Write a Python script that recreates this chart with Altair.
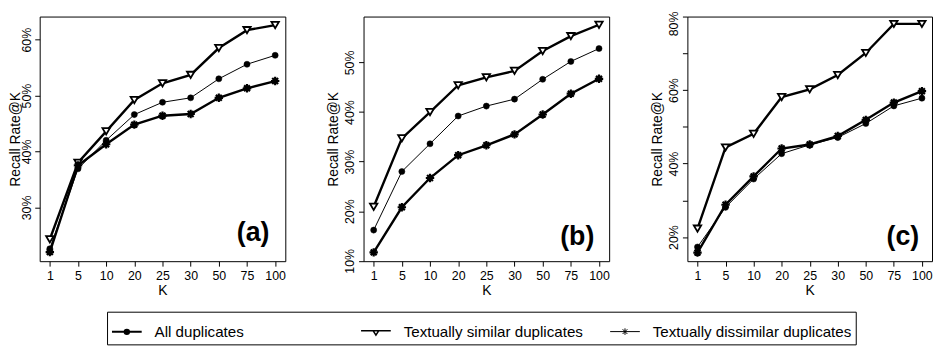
import altair as alt
import pandas as pd

# ---------------- data ----------------
K = ["1", "5", "10", "20", "25", "30", "50", "75", "100"]
SERIES = ["All duplicates", "Textually similar duplicates", "Textually dissimilar duplicates"]
PANELS = ["a", "b", "c"]
TAGS = ["(a)", "(b)", "(c)"]

all_a = [22.6, 36.9, 42.0, 46.6, 48.8, 49.6, 53.0, 55.6, 57.2]
sim_a = [24.3, 38.0, 43.6, 49.2, 52.2, 53.7, 58.5, 61.7, 62.6]
dis_a = [22.0, 37.5, 41.3, 44.8, 46.4, 46.7, 49.6, 51.3, 52.6]

all_b = [16.2, 28.0, 33.6, 39.2, 41.2, 42.6, 46.6, 50.2, 52.8]
sim_b = [20.9, 34.7, 40.0, 45.4, 47.0, 48.3, 52.3, 55.3, 57.6]
dis_b = [11.7, 20.8, 26.7, 31.3, 33.3, 35.5, 39.5, 43.7, 46.7]

all_c = [17.3, 28.1, 35.8, 42.7, 45.1, 47.1, 50.9, 55.7, 57.8]
sim_c = [22.3, 44.4, 48.1, 58.1, 60.2, 64.1, 70.1, 78.0, 78.0]
dis_c = [15.8, 28.8, 36.5, 44.1, 45.2, 47.5, 51.9, 56.6, 59.7]

VALUES = {
    "a": [all_a, sim_a, dis_a],
    "b": [all_b, sim_b, dis_b],
    "c": [all_c, sim_c, dis_c],
}

rows = []
for p in PANELS:
    for s, arr in zip(SERIES, VALUES[p]):
        for k, v in zip(K, arr):
            rows.append({"panel": p, "K": k, "series": s, "value": v})
df = pd.DataFrame(rows)

# ---------------- style ----------------
FONT = "Liberation Sans"
TRI = "M-1,-0.85L1,-0.85L0,0.85Z"
STAR = "M-1,0L1,0M0,-1L0,1M-0.7,-0.7L0.7,0.7M-0.7,0.7L0.7,-0.7"
LEG_PATHS = [
    "M-1,0L1,0M0.15,0A0.15,0.15,0,1,1,-0.15,0A0.15,0.15,0,1,1,0.15,0Z",
    "M-1,-0.08L1,-0.08M-0.19,-0.08L0.19,-0.08L0,0.22Z",
    "M-1,0L1,0M0,-0.22L0,0.22M-0.16,-0.16L0.16,0.16M-0.16,0.16L0.16,-0.16",
]


def panel(p, tag, width, domain, ticks, label_expr, title_off, tag_right, tag_y,
          label_pad=2, top_shift=False, legend=False):
    d = df[df.panel == p]
    height = 247
    x = alt.X("K:N", sort=K,
              scale=alt.Scale(type="point", padding=0.36),
              axis=alt.Axis(title="K", labelAngle=0, tickSize=5, labelPadding=3,
                            titlePadding=2, labelFontSize=12.5, titleFontSize=14))
    yax = dict(title="Recall Rate@K", values=ticks, labelExpr=label_expr,
               labelAngle=270, labelAlign="center", labelBaseline="bottom",
               tickSize=5, labelPadding=label_pad, minExtent=20, maxExtent=20,
               titlePadding=title_off - 20, labelFontSize=12.5, titleFontSize=14)
    if top_shift:
        yax["labelOffset"] = {"condition": {"test": "datum.value >= 79", "value": 7},
                              "value": 0}
    y = alt.Y("value:Q", scale=alt.Scale(domain=domain, nice=False, zero=False),
              axis=alt.Axis(**yax))
    base = alt.Chart(d)
    layers = []
    # textually similar (thick, open triangle)
    f = alt.datum.series == SERIES[1]
    layers.append(base.transform_filter(f).mark_line(color="black", strokeWidth=2.4).encode(x=x, y=y))
    layers.append(base.transform_filter(f).mark_point(shape=TRI, size=56, fill="white", stroke="black",
                                                      strokeWidth=1.8, opacity=1, filled=True).encode(x=x, y=y))
    # textually dissimilar (thick, star)
    f = alt.datum.series == SERIES[2]
    layers.append(base.transform_filter(f).mark_line(color="black", strokeWidth=2.4).encode(x=x, y=y))
    layers.append(base.transform_filter(f).mark_point(shape=STAR, size=72, stroke="black",
                                                      strokeWidth=2.2, opacity=1).encode(x=x, y=y))
    # all (thin, filled circle)
    f = alt.datum.series == SERIES[0]
    layers.append(base.transform_filter(f).mark_line(color="black", strokeWidth=1).encode(x=x, y=y))
    layers.append(base.transform_filter(f).mark_point(shape="circle", size=38, fill="black", stroke="black",
                                                      strokeWidth=0.5, opacity=1, filled=True).encode(x=x, y=y))
    # panel tag
    layers.append(alt.Chart(pd.DataFrame({"tag": [tag]})).mark_text(
        font=FONT, fontSize=27, fontWeight="bold", align="right", baseline="middle", color="black"
    ).encode(text="tag:N", x=alt.value(width - tag_right), y=alt.value(tag_y)))
    if legend:
        layers.append(base.transform_filter("false").mark_point(size=900, opacity=1).encode(
            shape=alt.Shape("series:N", scale=alt.Scale(domain=SERIES, range=LEG_PATHS),
                            legend=alt.Legend(title=None, orient="none", legendX=68, legendY=298,
                                              direction="horizontal", columns=3, symbolSize=900,
                                              labelFont=FONT, labelFontSize=15.3, labelColor="black",
                                              labelOffset=12, columnPadding=4.5, padding=4,
                                              strokeColor="black", gridAlign="all", labelLimit=0)),
            fill=alt.Fill("series:N", scale=alt.Scale(domain=SERIES, range=["black", "white", "black"])),
            stroke=alt.Stroke("series:N", scale=alt.Scale(domain=SERIES, range=["black", "black", "black"])),
            strokeWidth=alt.StrokeWidth("series:N", scale=alt.Scale(domain=SERIES, range=[2, 1, 2])),
        ))
    return alt.layer(*layers).properties(width=width, height=height)


pa = panel("a", TAGS[0], 248, [20.38, 64.13], [30, 40, 50, 60], "datum.value + '%'",
           17, 16, 219, label_pad=1, legend=True)
pb = panel("b", TAGS[1], 248, [9.93, 59.25], [10, 20, 30, 40, 50], "datum.value + '%'",
           23, 15, 223)
pc = panel("c", TAGS[2], 247, [13.45, 80], [20, 30, 40, 50, 60, 70, 80],
           "datum.value % 20 == 0 ? datum.value + '%' : ''", 23, 13, 223, top_shift=True)

chart = alt.hconcat(pa, pb, pc, spacing=40).properties(padding=0).configure(
    font=FONT
).configure_view(
    stroke="black", strokeWidth=1
).configure_axis(
    domain=False, grid=False, tickColor="black", labelColor="black", titleColor="black",
    labelFont=FONT, titleFont=FONT, titleFontWeight="normal", tickWidth=1
)

chart.save("out.html", embed_options={"renderer": "svg", "actions": False})
